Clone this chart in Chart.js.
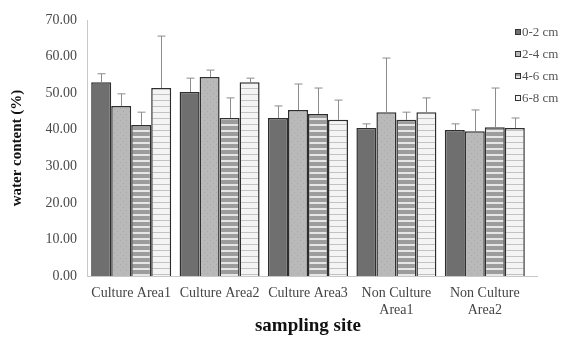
<!DOCTYPE html>
<html>
<head>
<meta charset="utf-8">
<script src="https://cdn.jsdelivr.net/npm/chart.js@4"></script>
<style>
  html, body { margin: 0; padding: 0; background: #fff; }
  #wrap { width: 569px; height: 337px; position: relative; }
</style>
</head>
<body>
<div id="wrap"><canvas id="grafico"></canvas></div>
<script>
const sitios = ['Culture Area1', 'Culture Area2', 'Culture Area3', ['Non Culture', 'Area1'], ['Non Culture', 'Area2']];
const camadas = ['0-2 cm', '2-4 cm', '4-6 cm', '6-8 cm'];

const valores0a2 = [53.0, 50.3, 43.2, 40.5, 39.9];
const valores2a4 = [46.5, 54.4, 45.4, 44.8, 39.6];
const valores4a6 = [41.3, 43.2, 44.3, 42.7, 40.7];
const valores6a8 = [51.4, 53.0, 42.7, 44.8, 40.5];

const erro0a2 = [2.3, 3.8, 3.3, 1.1, 1.7];
const erro2a4 = [3.3, 1.9, 7.1, 14.8, 5.8];
const erro4a6 = [3.5, 5.5, 7.1, 2.1, 10.7];
const erro6a8 = [14.2, 1.1, 5.4, 3.9, 2.7];

const yTicks = [0, 10, 20, 30, 40, 50, 60, 70];

function padrao(fundo, desenho) {
    const c = document.createElement('canvas');
    c.width = 6; c.height = 6;
    const g = c.getContext('2d');
    g.fillStyle = fundo;
    g.fillRect(0, 0, 6, 6);
    desenho(g);
    return document.getElementById('grafico').getContext('2d').createPattern(c, 'repeat');
}

const fill0a2 = '#6f6f6f';
const fill2a4 = padrao('#b9b9b9', g => {
    g.fillStyle = '#a8a8a8';
    g.fillRect(0, 0, 1, 1); g.fillRect(3, 3, 1, 1);
});
const fill4a6 = padrao('#9c9c9c', g => {
    g.fillStyle = '#e6e6e6';
    g.fillRect(0, 4, 6, 2);
});
const fill6a8 = padrao('#f4f4f4', g => {
    g.fillStyle = '#c2c2c2';
    g.fillRect(0, 4, 6, 1);
});

const erros = [erro0a2, erro2a4, erro4a6, erro6a8];
const fills = [fill0a2, fill2a4, fill4a6, fill6a8];

const errorBars = {
    id: 'errorBars',
    afterDatasetsDraw(chart) {
        const ctx = chart.ctx;
        const y = chart.scales.y;
        ctx.save();
        ctx.strokeStyle = '#8c8c8c';
        ctx.lineWidth = 1;
        chart.data.datasets.forEach((ds, i) => {
            chart.getDatasetMeta(i).data.forEach((bar, j) => {
                const topo = y.getPixelForValue(ds.data[j] + erros[i][j]);
                const x = Math.round(bar.x) + 0.5;
                ctx.beginPath();
                ctx.moveTo(x, bar.y);
                ctx.lineTo(x, topo);
                ctx.moveTo(x - 4, topo);
                ctx.lineTo(x + 4, topo);
                ctx.stroke();
            });
        });
        // a linha de base passa um pouco do último grupo
        const area = chart.chartArea;
        ctx.strokeStyle = '#c8c8c8';
        ctx.beginPath();
        ctx.moveTo(area.right, Math.round(area.bottom) + 0.5);
        ctx.lineTo(area.right + 9, Math.round(area.bottom) + 0.5);
        ctx.stroke();
        ctx.restore();
    }
};

const legenda = {
    id: 'legenda',
    afterDraw(chart) {
        const ctx = chart.ctx;
        ctx.save();
        ctx.font = '13px "Liberation Serif", serif';
        ctx.textBaseline = 'middle';
        camadas.forEach((nome, i) => {
            const y = 32 + i * 22;
            ctx.fillStyle = fills[i];
            ctx.fillRect(515, y - 3, 6, 6);
            ctx.strokeStyle = '#333';
            ctx.lineWidth = 1;
            ctx.strokeRect(515.5, y - 2.5, 5, 5);
            ctx.fillStyle = '#555';
            ctx.fillText(nome, 522, y + 1);
        });
        ctx.restore();
    }
};

const fonteSerif = '"Liberation Serif", serif';

const ctx = document.getElementById('grafico').getContext('2d');
new Chart(ctx, {
    type: 'bar',
    data: {
        labels: sitios,
        datasets: [
            { label: camadas[0], data: valores0a2, backgroundColor: fill0a2 },
            { label: camadas[1], data: valores2a4, backgroundColor: fill2a4 },
            { label: camadas[2], data: valores4a6, backgroundColor: fill4a6 },
            { label: camadas[3], data: valores6a8, backgroundColor: fill6a8 }
        ].map(d => Object.assign(d, {
            borderColor: '#2e2e2e',
            borderWidth: 1.5,
            borderSkipped: 'bottom',
            categoryPercentage: 0.905,
            barPercentage: 1.0
        }))
    },
    options: {
        responsive: true,
        maintainAspectRatio: false,
        animation: false,
        layout: { padding: { top: 20, right: 40, bottom: 0, left: 0 } },
        plugins: {
            legend: { display: false },
            tooltip: { enabled: false }
        },
        scales: {
            x: {
                grid: { display: false, drawTicks: false },
                border: { color: '#c8c8c8' },
                ticks: {
                    color: '#444',
                    padding: 9,
                    maxRotation: 0,
                    autoSkip: false,
                    font: { family: fonteSerif, size: 14 },
                    lineHeight: 1.05
                },
                title: {
                    display: true,
                    text: 'sampling site',
                    color: '#111',
                    padding: { top: 3, bottom: 0 },
                    font: { family: fonteSerif, size: 19, weight: 'bold' }
                },
                afterFit: s => { s.height = 61; }
            },
            y: {
                min: 0,
                max: 70,
                afterBuildTicks: s => { s.ticks = yTicks.map(v => ({ value: v })); },
                grid: { display: false, drawOnChartArea: false, drawTicks: true, tickLength: 4, color: '#c8c8c8' },
                border: { color: '#c8c8c8' },
                ticks: {
                    color: '#4a4a4a',
                    padding: 6,
                    font: { family: fonteSerif, size: 14 },
                    callback: v => v.toFixed(2)
                },
                title: {
                    display: true,
                    text: 'water content (%)',
                    color: '#111',
                    padding: { top: 8, bottom: 0 },
                    font: { family: fonteSerif, size: 15, weight: 'bold' }
                },
                afterFit: s => { s.width = 87; }
            }
        }
    },
    plugins: [errorBars, legenda]
});
</script>
</body>
</html>
